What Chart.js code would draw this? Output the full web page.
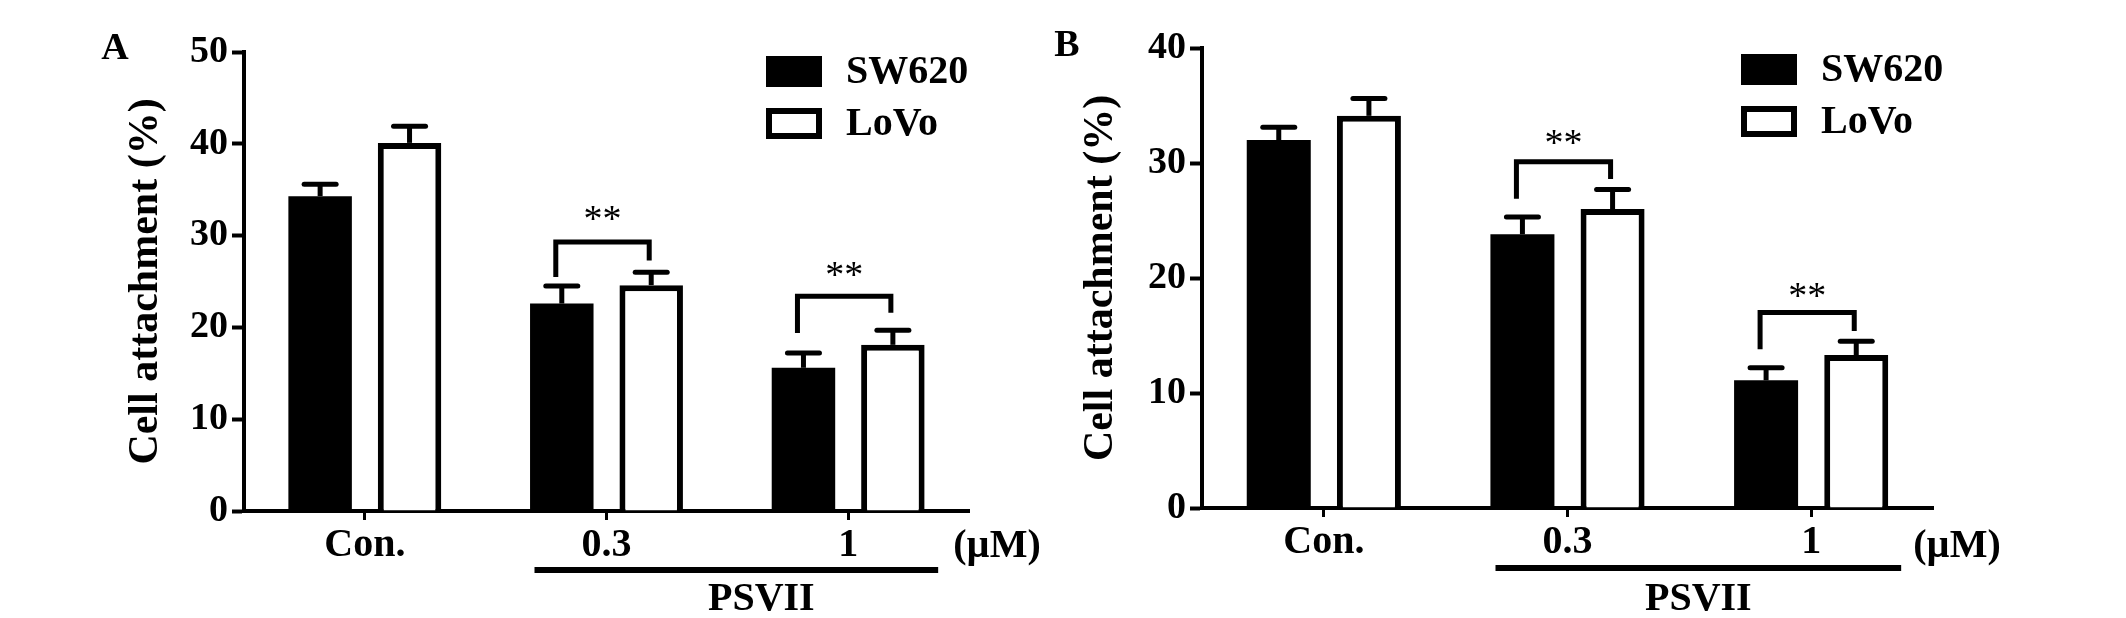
<!DOCTYPE html>
<html>
<head>
<meta charset="utf-8">
<script src="https://cdn.jsdelivr.net/npm/chart.js@4.4.0/dist/chart.umd.min.js"></script>
<style>
  html, body { margin: 0; padding: 0; background: #fff; }
  body { width: 2126px; height: 618px; position: relative; overflow: hidden; }
  canvas { position: absolute; top: 0; }
  #chartA { left: 0; }
  #chartB { left: 1040px; }
</style>
</head>
<body>
<canvas id="chartA" width="1063" height="618"></canvas>
<canvas id="chartB" width="1086" height="618"></canvas>
<script>
const categories = ['Con.', '0.3', '1'];
const seriesNames = ['SW620', 'LoVo'];
const yTitle = 'Cell attachment (%)';

// panel A
const sw620A = [34.3, 22.6, 15.6];
const sw620ErrA = [1.3, 1.9, 1.6];
const lovoA = [40.1, 24.6, 18.1];
const lovoErrA = [1.8, 1.4, 1.6];
const yTicksA = [0, 10, 20, 30, 40, 50];
// [category, bracket top, left leg end, right leg end, star height]
const bracketsA = [[1, 29.3, 25.5, 27.3, 32.4], [2, 23.4, 19.4, 21.6, 26.3]];

// panel B
const sw620B = [32.0, 23.8, 11.1];
const sw620ErrB = [1.1, 1.5, 1.1];
const lovoB = [34.1, 26.0, 13.3];
const lovoErrB = [1.5, 1.7, 1.2];
const yTicksB = [0, 10, 20, 30, 40];
const bracketsB = [[1, 30.1, 26.9, 28.6, 32.2], [2, 17.0, 13.8, 15.4, 18.9]];

const serif = "'Liberation Serif', 'Times New Roman', serif";
Chart.defaults.color = '#000';
Chart.defaults.font.family = serif;

const decor = {
  id: 'decor',
  afterDatasetsDraw(chart, args, o) {
    const ctx = chart.ctx, xs = chart.scales.x, ys = chart.scales.y;
    ctx.save();
    ctx.strokeStyle = '#000';
    ctx.fillStyle = '#000';
    ctx.lineWidth = 5;

    // error bars
    o.errors.forEach((errs, i) => {
      const ds = chart.data.datasets[i];
      chart.getDatasetMeta(i).data.forEach((bar, j) => {
        const top = ys.getPixelForValue(ds.data[j] + errs[j]);
        ctx.lineCap = 'butt';
        ctx.beginPath(); ctx.moveTo(bar.x, bar.y); ctx.lineTo(bar.x, top); ctx.stroke();
        ctx.lineCap = 'round';
        ctx.beginPath(); ctx.moveTo(bar.x - 16, top); ctx.lineTo(bar.x + 16, top); ctx.stroke();
      });
    });

    // significance brackets
    ctx.lineCap = 'butt';
    ctx.lineJoin = 'miter';
    o.brackets.forEach(b => {
      const xl = chart.getDatasetMeta(0).data[b[0]].x - 6;
      const xr = chart.getDatasetMeta(1).data[b[0]].x - 2;
      ctx.beginPath();
      ctx.moveTo(xl, ys.getPixelForValue(b[2]));
      ctx.lineTo(xl, ys.getPixelForValue(b[1]));
      ctx.lineTo(xr, ys.getPixelForValue(b[1]));
      ctx.lineTo(xr, ys.getPixelForValue(b[3]));
      ctx.stroke();
      ctx.font = '38px ' + serif;
      ctx.textAlign = 'center';
      ctx.textBaseline = 'alphabetic';
      const m = ctx.measureText('**');
      const yc = ys.getPixelForValue(b[4]);
      ctx.fillText('**', (xl + xr) / 2, yc + (m.actualBoundingBoxAscent - m.actualBoundingBoxDescent) / 2);
    });

    // legend
    ctx.font = 'bold 40px ' + serif;
    ctx.textAlign = 'left';
    ctx.textBaseline = 'middle';
    chart.data.datasets.forEach((ds, i) => {
      const bx = o.legend[0], by = o.legend[1] + i * 52;
      ctx.fillStyle = ds.backgroundColor;
      ctx.fillRect(bx, by, 56, 31);
      if (ds.borderWidth) {
        ctx.lineWidth = ds.borderWidth;
        ctx.strokeStyle = ds.borderColor;
        ctx.strokeRect(bx + 3, by + 3, 50, 25);
      }
      ctx.fillStyle = '#000';
      ctx.fillText(ds.label, bx + 80, by + 17);
    });

    // unit, treatment line, panel letter
    const p1 = xs.getPixelForValue(1), p2 = xs.getPixelForValue(2);
    ctx.textAlign = 'center';
    ctx.fillText('(\u00b5M)', chart.chartArea.right + o.unitDx, 547);
    ctx.lineWidth = 6;
    ctx.strokeStyle = '#000';
    ctx.beginPath(); ctx.moveTo(p1 - 72, o.lineY); ctx.lineTo(p2 + 90, o.lineY); ctx.stroke();
    ctx.fillText('PSVII', (p1 + p2) / 2 + o.textDx, 600);
    ctx.font = 'bold 38px ' + serif;
    ctx.fillText(o.letter, o.letterPos[0], o.letterPos[1]);
    ctx.restore();
  }
};

function buildChart(id, p) {
  const canvas = document.getElementById(id);
  return new Chart(canvas, {
    type: 'bar',
    data: {
      labels: categories,
      datasets: [
        {
          label: seriesNames[0],
          data: p.sw,
          backgroundColor: '#000',
          borderWidth: 0,
          barPercentage: 0.71,
          categoryPercentage: 0.74
        },
        {
          label: seriesNames[1],
          data: p.lovo,
          backgroundColor: '#fff',
          borderColor: '#000',
          borderWidth: 6,
          barPercentage: 0.71,
          categoryPercentage: 0.74
        }
      ]
    },
    options: {
      responsive: false,
      devicePixelRatio: 1,
      animation: false,
      layout: {
        padding: { left: 0, top: p.area.top, right: canvas.width - p.area.right, bottom: 0 }
      },
      scales: {
        x: {
          grid: { offset: false, drawOnChartArea: false, tickLength: 9, tickWidth: 3, tickColor: '#000' },
          border: { display: true, width: 4, color: '#000' },
          ticks: { font: { size: 40, weight: 'bold' }, padding: 2, maxRotation: 0, autoSkip: false },
          afterFit: s => { s.height = canvas.height - p.area.bottom; }
        },
        y: {
          min: p.yTicks[0],
          max: p.yTicks[p.yTicks.length - 1],
          afterBuildTicks: s => { s.ticks = p.yTicks.map(v => ({ value: v })); },
          grid: { drawOnChartArea: false, tickLength: 12, tickWidth: 4, tickColor: '#000' },
          border: { display: true, width: 4, color: '#000' },
          ticks: { font: { size: 38, weight: 'bold' }, padding: 4 },
          title: {
            display: true,
            text: yTitle,
            font: { size: 42, weight: 'bold' },
            padding: { top: p.titleX - 25.2, bottom: 0 }
          },
          afterFit: s => { s.width = p.area.left; }
        }
      },
      plugins: {
        legend: { display: false },
        tooltip: { enabled: false },
        decor: {
          errors: [p.swErr, p.lovoErr],
          brackets: p.brackets,
          legend: p.legend,
          unitDx: p.unitDx,
          lineY: p.lineY,
          textDx: p.textDx,
          letter: p.letter,
          letterPos: p.letterPos
        }
      }
    },
    plugins: [decor]
  });
}

buildChart('chartA', {
  sw: sw620A, swErr: sw620ErrA, lovo: lovoA, lovoErr: lovoErrA,
  yTicks: yTicksA, brackets: bracketsA,
  area: { left: 244, right: 969, top: 52, bottom: 511 },
  titleX: 146, legend: [766, 56], unitDx: 28, lineY: 570, textDx: 34,
  letter: 'A', letterPos: [115, 49]
});

buildChart('chartB', {
  sw: sw620B, swErr: sw620ErrB, lovo: lovoB, lovoErr: lovoErrB,
  yTicks: yTicksB, brackets: bracketsB,
  area: { left: 162, right: 893, top: 48, bottom: 508 },
  titleX: 61, legend: [701, 54], unitDx: 24, lineY: 568, textDx: 9,
  letter: 'B', letterPos: [27, 46]
});
</script>
</body>
</html>
